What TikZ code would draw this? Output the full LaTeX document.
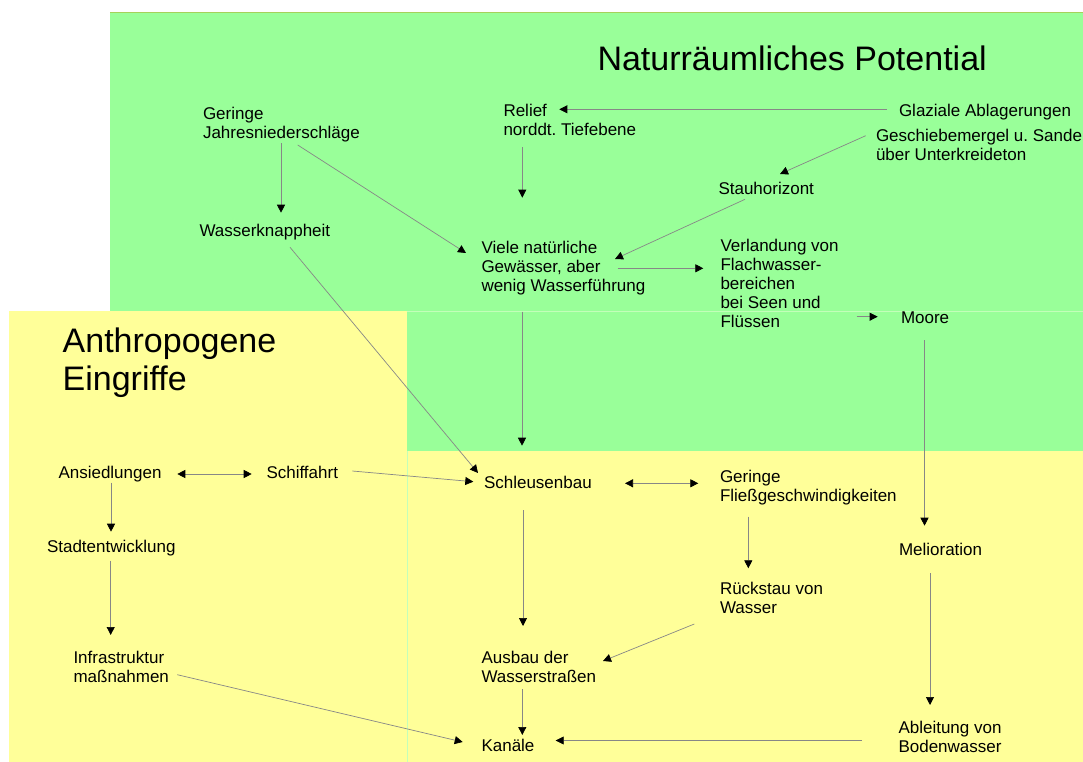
\documentclass[tikz,border=0pt]{standalone}
\usepackage{fontspec}
\setmainfont{Liberation Sans}
\usetikzlibrary{arrows.meta}
\definecolor{nrGreen}{RGB}{153,255,153}
\definecolor{nrYellow}{RGB}{255,255,153}
\definecolor{nrEdge}{RGB}{165,210,90}
\definecolor{nrFaint}{RGB}{195,255,185}
\definecolor{nrLine}{RGB}{135,135,135}
\frenchspacing

\begin{document}
\begin{tikzpicture}[x=1pt, y=-1pt,
  txt/.style={anchor=north west, inner sep=0pt, outer sep=0pt, align=left, font=\fontsize{17}{19}\selectfont},
  heading/.style={txt, font=\fontsize{34}{37.7}\selectfont},
  arrow/.style={-{Triangle[length=8pt, width=8pt, color=black]}, nrLine, line width=0.7pt},
  twoway/.style={{Triangle[length=8pt, width=8pt, color=black]}-{Triangle[length=8pt, width=8pt, color=black]}, nrLine, line width=0.7pt}
]
  % Flaechen
  \useasboundingbox (0,0) rectangle (1083,762);
  \fill[white] (0,0) rectangle (1083,762);
  \fill[nrGreen] (110,12.3) rectangle (1083,451);
  \draw[nrEdge] (110,12.3) -- (1083,12.3);
  \fill[nrYellow] (9.3,310.7) rectangle (406.7,762);
  \fill[nrYellow] (406.7,451) rectangle (1083,762);
  \draw[nrFaint] (406.7,310.7) -- (1083,310.7);
  \draw[nrFaint] (406.7,451) -- (406.7,762);

  % Ueberschriften
  \node[heading] (natur) at (597.5,46) {Naturräumliches Potential};
  \node[heading] (anthro) at (62.7,327.8) {Anthropogene\\Eingriffe};

  % Naturraeumliches Potential
  \node[txt] (gjn) at (203,107) {Geringe\\Jahresniederschläge};
  \node[txt] (wk) at (199.5,224.5) {Wasserknappheit};
  \node[txt] (relief) at (503.5,104.5) {Relief\\norddt. Tiefebene};
  \node[txt] (glazial) at (899,104.5) {Glaziale Ablagerungen};
  \node[txt] (mergel) at (876,129.5) {Geschiebemergel u. Sande\\über Unterkreideton};
  \node[txt] (stau) at (718.5,182) {Stauhorizont};
  \node[txt] (viele) at (481.5,241.5) {Viele natürliche\\Gewässer, aber\\wenig Wasserführung};
  \node[txt] (verl) at (720.5,239.5) {Verlandung von\\Flachwasser-\\bereichen\\bei Seen und\\Flüssen};
  \node[txt] (moore) at (901,311.5) {Moore};

  % Anthropogene Eingriffe
  \node[txt] (ans) at (58.5,466.5) {Ansiedlungen};
  \node[txt] (schiff) at (266.5,466.5) {Schiffahrt};
  \node[txt] (schleuse) at (484,476.5) {Schleusenbau};
  \node[txt] (fliess) at (720,470.5) {Geringe\\Fließgeschwindigkeiten};
  \node[txt] (stadt) at (47,540) {Stadtentwicklung};
  \node[txt] (melio) at (899,543.5) {Melioration};
  \node[txt] (rueck) at (720,582.5) {Rückstau von\\Wasser};
  \node[txt] (infra) at (73.5,651.5) {Infrastruktur\\maßnahmen};
  \node[txt] (ausbau) at (481.5,651) {Ausbau der\\Wasserstraßen};
  \node[txt] (ableit) at (898.5,721.5) {Ableitung von\\Bodenwasser};
  \node[txt] (kanaele) at (481.5,739.5) {Kanäle};

  % Pfeile oben
  \draw[arrow] ([shift={(-12.3,4.8)}]glazial.north west) -- ([shift={(55.8,4.8)}]relief.north west);
  \draw[arrow] ([shift={(78,36.3)}]gjn.north west) -- ([shift={(81.5,-11.8)}]wk.north west);
  \draw[arrow] ([shift={(94.7,38)}]gjn.north west) -- ([shift={(-15.5,11.5)}]viele.north west);
  \draw[arrow] ([shift={(18.8,42.8)}]relief.north west) -- ([shift={(40.8,-43.8)}]viele.north west);
  \draw[arrow] ([shift={(-10.3,6.2)}]mergel.north west) -- ([shift={(61.5,-8)}]stau.north west);
  \draw[arrow] ([shift={(26.5,17.3)}]stau.north west) -- ([shift={(133.5,17.5)}]viele.north west);
  \draw[arrow] ([shift={(136.2,26.8)}]viele.north west) -- ([shift={(-17.2,28.8)}]verl.north west);
  \draw[arrow] ([shift={(136.2,77.2)}]verl.north west) -- ([shift={(-23.3,5.2)}]moore.north west);
  \draw[arrow] ([shift={(40.5,70.2)}]viele.north west) -- ([shift={(38,-30.8)}]schleuse.north west);
  \draw[arrow] ([shift={(90.5,22.8)}]wk.north west) -- ([shift={(-6,-3.5)}]schleuse.north west);
  \draw[arrow] ([shift={(23.5,28.5)}]moore.north west) -- ([shift={(25.5,-17.8)}]melio.north west);

  % Pfeile unten
  \draw[arrow] ([shift={(85.8,4.5)}]schiff.north west) -- ([shift={(-10.7,5.2)}]schleuse.north west);
  \draw[twoway] ([shift={(118.8,7.5)}]ans.north west) -- ([shift={(-14.8,7.5)}]schiff.north west);
  \draw[twoway] ([shift={(141,6.8)}]schleuse.north west) -- ([shift={(-21.7,12.8)}]fliess.north west);
  \draw[arrow] ([shift={(52.5,16.2)}]ans.north west) -- ([shift={(64,-8.3)}]stadt.north west);
  \draw[arrow] ([shift={(63.7,20.7)}]stadt.north west) -- ([shift={(37.2,-16.5)}]infra.north west);
  \draw[arrow] ([shift={(28.3,46.2)}]fliess.north west) -- ([shift={(28.3,-14.2)}]rueck.north west);
  \draw[arrow] ([shift={(39,33.5)}]schleuse.north west) -- ([shift={(41.5,-25)}]ausbau.north west);
  \draw[arrow] ([shift={(-25.7,41.5)}]rueck.north west) -- ([shift={(121.5,10)}]ausbau.north west);
  \draw[arrow] ([shift={(31,29.8)}]melio.north west) -- ([shift={(31.5,-16.5)}]ableit.north west);
  \draw[arrow] ([shift={(103.8,23.2)}]infra.north west) -- ([shift={(-18.8,2.5)}]kanaele.north west);
  \draw[arrow] ([shift={(40.8,38)}]ausbau.north west) -- ([shift={(40.8,-4.5)}]kanaele.north west);
  \draw[arrow] ([shift={(-36.8,19)}]ableit.north west) -- ([shift={(74.2,1)}]kanaele.north west);
\end{tikzpicture}
\end{document}
